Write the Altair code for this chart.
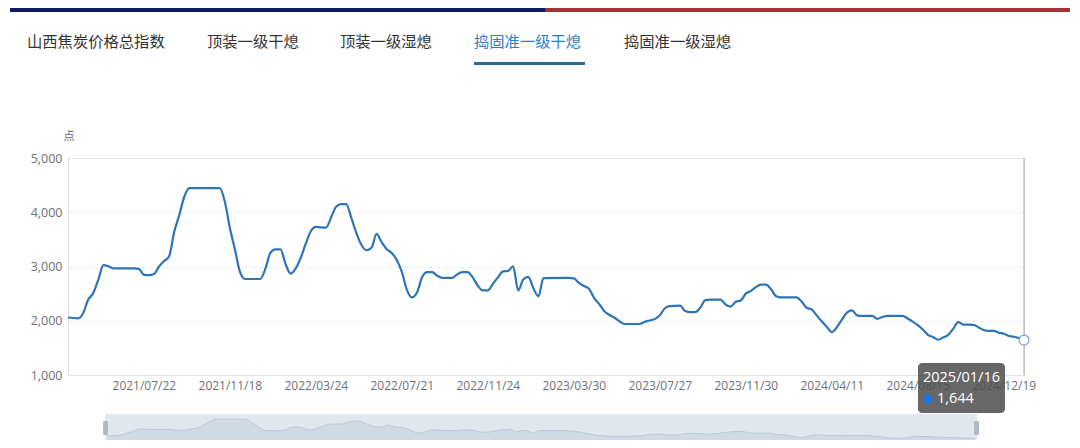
import altair as alt
import pandas as pd

# ---------------- data ----------------
tabs = ["山西焦炭价格总指数", "顶装一级干熄", "顶装一级湿熄", "捣固准一级干熄", "捣固准一级湿熄"]
active_tab = "捣固准一级干熄"
y_unit = "点"

# weekly category position (0 = first week shown) and index value
week_idx = [0, 2, 3, 4, 5, 6, 7, 8, 9, 13, 14, 15, 16, 17, 18, 19, 20, 21, 22, 23, 24, 30, 31, 32, 33, 34, 35,
            38, 39, 40, 41, 42, 43, 44, 45, 46, 47, 48, 49, 51, 52, 53, 54, 55, 56, 57, 58, 59, 60, 61, 62,
            63, 64, 65, 66, 67, 68, 69, 70, 71, 72, 73, 74, 76, 77, 78, 79, 80, 81, 82, 83, 84, 85, 86, 87,
            88, 89, 90, 91, 92, 93, 94, 99, 100, 101, 102, 103, 104, 105, 106, 107, 108, 109, 110, 113, 114,
            115, 116, 117, 118, 119, 121, 122, 123, 124, 125, 126, 127, 129, 130, 131, 132, 133, 134, 135,
            136, 137, 138, 139, 140, 141, 144, 145, 146, 147, 148, 149, 150, 151, 152, 153, 154, 155, 156,
            157, 159, 160, 161, 162, 165, 166, 167, 168, 169, 170, 171, 172, 173, 174, 175, 176, 177, 179,
            180, 181, 182, 183, 184, 185, 186, 187, 188, 189]
index_value = [2060, 2045, 2140, 2390, 2510, 2760, 3025, 3005, 2965, 2965, 2955, 2850, 2840, 2860, 3000, 3100,
               3190, 3640, 3950, 4290, 4445, 4445, 4200, 3710, 3315, 2900, 2770,
               2770, 2950, 3250, 3315, 3315, 3050, 2870, 2960, 3160, 3420, 3650, 3730, 3715, 3900, 4100, 4150,
               4150, 3900, 3620, 3400, 3300, 3345, 3600, 3450,
               3320, 3250, 3120, 2900, 2570, 2430, 2520, 2800, 2895, 2895, 2830, 2790, 2790, 2860, 2895, 2895,
               2800, 2650, 2560, 2560, 2680, 2800, 2910, 2920,
               3005, 2560, 2760, 2810, 2600, 2450, 2785, 2790, 2780, 2700, 2640, 2590, 2420, 2310, 2180, 2110,
               2060, 1990, 1940, 1940, 1980,
               2005, 2030, 2100, 2230, 2270, 2280, 2180, 2160, 2160, 2240, 2380, 2390, 2390, 2300, 2260, 2350,
               2375, 2500, 2550,
               2620, 2665, 2665, 2580, 2450, 2430, 2430, 2360, 2240, 2210, 2100, 1990, 1890, 1790, 1880, 2020,
               2150, 2190, 2100,
               2090, 2090, 2035, 2070, 2090, 2090, 2040, 1985, 1920, 1840, 1740, 1700, 1650, 1690, 1740, 1850,
               1975, 1930, 1925,
               1880, 1830, 1815, 1815, 1780, 1760, 1720, 1705, 1680, 1644]

tick_idx = [15, 32, 49, 66, 83, 100, 117, 134, 151, 168, 185]
tick_labels = ["2021/07/22", "2021/11/18", "2022/03/24", "2022/07/21", "2022/11/24", "2023/03/30",
               "2023/07/27", "2023/11/30", "2024/04/11", "2024/08/15", "2024/12/19"]
y_ticks = [1000, 2000, 3000, 4000, 5000]
last_idx = 189
last_date = "2025/01/16"
last_value = 1644

# ---------------- styling ----------------
W, H = 956, 217
LINE = "#2e74b8"
LABEL = "#6e7079"
NUM_FONT = "Open Sans"
CJK_FONT = "Noto Sans CJK SC"

df = pd.DataFrame({"idx": week_idx, "value": index_value})
end_df = pd.DataFrame({"idx": [last_idx], "value": [last_value]})
one = pd.DataFrame({"k": [0]})

label_expr = "[" + ",".join(f"'{t}'" for t in tick_labels) + "][indexof([" + \
    ",".join(str(t) for t in tick_idx) + "], datum.value)]"

xs = alt.Scale(domain=[0, last_idx], nice=False, zero=False)
ys = alt.Scale(domain=[1000, 5000], nice=False, zero=False)

x_axis = alt.Axis(values=tick_idx, labelExpr=label_expr, grid=False, ticks=False, domain=True,
                  domainColor="#dfe3ea", domainWidth=1, labelColor=LABEL, labelFont=NUM_FONT,
                  labelFontSize=12, labelPadding=5, labelFlush=False, labelOverlap=False, title=None)
y_axis = alt.Axis(values=y_ticks, format=",.0f", grid=True, gridDash=[4, 4], gridColor="#e3e6eb",
                  ticks=False, domain=False, labelColor=LABEL, labelFont=NUM_FONT, labelFontSize=12.5,
                  labelPadding=6, title=None)

rule = alt.Chart(end_df).mark_rule(color="#a8a8a8", strokeWidth=1).encode(
    x=alt.X("idx:Q", scale=xs, axis=x_axis), y=alt.value(0), y2=alt.value(H))
line = alt.Chart(df).mark_line(interpolate="monotone", color=LINE, strokeWidth=2.2).encode(
    x=alt.X("idx:Q", scale=xs, axis=x_axis), y=alt.Y("value:Q", scale=ys, axis=y_axis))
endpoint = alt.Chart(end_df).mark_point(shape="circle", filled=True, fill="white", stroke="#7d9fc6",
                                        strokeWidth=1.2, size=100, opacity=1).encode(
    x=alt.X("idx:Q", scale=xs), y=alt.Y("value:Q", scale=ys))
main = alt.layer(rule, line, endpoint)


def rect(x, x2, y, y2, **kw):
    return alt.Chart(one).mark_rect(**kw).encode(
        x=alt.value(x), x2=alt.value(x2), y=alt.value(y), y2=alt.value(y2))


def text(t, x, y, **kw):
    return alt.Chart(one).mark_text(text=t, baseline="middle", **kw).encode(
        x=alt.value(x), y=alt.value(y))


# top colour band
bar_navy = rect(-58, 477, -150, -146, color="#11186a")
bar_red = rect(477, 1002, -150, -146, color="#a53434")

# tabs
tab_x = [-41, 139, 272, 406, 556]
tab_layers = []
for t, tx in zip(tabs, tab_x):
    tab_layers.append(text(t, tx, -116, align="left", font=CJK_FONT, fontSize=15.3,
                           color="#2c7fc2" if t == active_tab else "#333333"))
underline = rect(406, 517, -96, -93, color="#24708c")
unit = text(y_unit, 1, -21, align="center", font=CJK_FONT, fontSize=11, color="#666666")

# data-zoom slider
slider_bg = rect(37, 909, 256, 285, color="#e2e7ee")
sx = alt.Scale(domain=[0, last_idx], range=[39, 907], nice=False, zero=False)
sy = alt.Scale(domain=[1000, 4600], range=[285, 260], nice=False, zero=False)
slider_area = alt.Chart(df).mark_area(interpolate="monotone", color="#cbd3de",
                                      line={"color": "#b9c2cf", "strokeWidth": 0.8}).encode(
    x=alt.X("idx:Q", scale=sx, axis=None), y=alt.Y("value:Q", scale=sy, axis=None), y2=alt.value(285))
handle_l = rect(35, 40, 263, 277, color="#aeb8c6", cornerRadius=1.5)
handle_r = rect(906, 911, 263, 277, color="#aeb8c6", cornerRadius=1.5)

# tooltip
tip_box = rect(850, 937, 205, 255, color="#4e4e4e", opacity=0.86, cornerRadius=4)
tip_date = text(last_date, 855, 220, align="left", font=NUM_FONT, fontSize=14.5, color="white")
tip_dot = alt.Chart(one).mark_circle(size=80, color="#1a73e8", opacity=1).encode(
    x=alt.value(860), y=alt.value(241))
tip_val = text(f"{last_value:,}", 869, 241, align="left", font=NUM_FONT, fontSize=14.5, color="white")

chart = alt.layer(
    bar_navy, bar_red, *tab_layers, underline, unit,
    main,
    slider_bg, slider_area, handle_l, handle_r,
    tip_box, tip_date, tip_dot, tip_val,
).resolve_scale(x="independent", y="independent").properties(
    width=W, height=H,
    autosize=alt.AutoSizeParams(type="none"),
    padding={"left": 60, "top": 150, "right": 48, "bottom": 65},
).configure_view(stroke=None).configure(background="white")

chart.save("out.html", embed_options={"renderer": "svg", "actions": False})
